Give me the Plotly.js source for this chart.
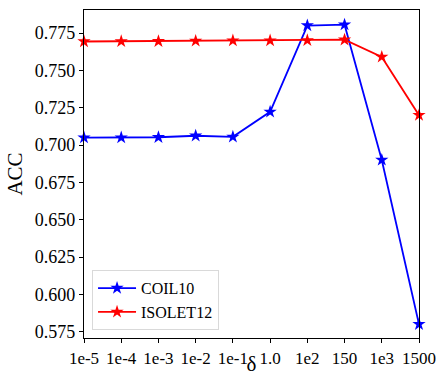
<!DOCTYPE html>
<html><head><meta charset="utf-8">
<script src="https://cdn.plot.ly/plotly-3.0.1.min.js"></script>
<style>html,body{margin:0;padding:0;background:#fff}#chart{width:440px;height:376px}</style>
</head><body><div id="chart"></div>
<script>
const categories = ["1e-5","1e-4","1e-3","1e-2","1e-1","1.0","1e2","150","1e3","1500"];
const coil10 = [0.705, 0.705, 0.7052, 0.7062, 0.7055, 0.7222, 0.7800, 0.7806, 0.6900, 0.5800];
const isolet12 = [0.7693, 0.7694, 0.7695, 0.7697, 0.7699, 0.7699, 0.7701, 0.7705, 0.7590, 0.7200];
const yTicks = [0.575,0.600,0.625,0.650,0.675,0.700,0.725,0.750,0.775];

const font = "'Liberation Serif', serif";
const traces = [
  {x: categories, y: coil10, name: "COIL10", type: "scatter", mode: "lines+markers",
   line: {color: "#0000ff", width: 1.8}, marker: {symbol: "star", size: 10, color: "#0000ff"}, cliponaxis: false},
  {x: categories, y: isolet12, name: "ISOLET12", type: "scatter", mode: "lines+markers",
   line: {color: "#ff0000", width: 1.8}, marker: {symbol: "star", size: 10, color: "#ff0000"}, cliponaxis: false}
];
const layout = {
  width: 440, height: 376,
  margin: {l: 84, r: 21, t: 10, b: 38},
  paper_bgcolor: "#fff", plot_bgcolor: "#fff",
  font: {family: font, color: "#000", size: 17},
  showlegend: true,
  legend: {x: 0.024, y: 0.024, xanchor: "left", yanchor: "bottom",
    bgcolor: "#fff", bordercolor: "#d9d9d9", borderwidth: 1, font: {size: 16, family: font},
    itemwidth: 38, tracegroupgap: 0},
  xaxis: {type: "category", range: [0, 9], showgrid: false, zeroline: false,
    showline: true, linecolor: "#000", linewidth: 1.2, mirror: true,
    ticks: "outside", ticklen: 4, tickcolor: "#000",
    tickfont: {size: 17, family: font},
    title: {text: "δ", font: {size: 21, family: font}, standoff: 0}},
  yaxis: {range: [0.5708, 0.7904], showgrid: false, zeroline: false,
    showline: true, linecolor: "#000", linewidth: 1.2, mirror: true,
    ticks: "outside", ticklen: 4, tickcolor: "#000",
    tickvals: yTicks, ticktext: yTicks.map(v => v.toFixed(3)),
    tickfont: {size: 18, family: font},
    title: {text: "ACC", font: {size: 21, family: font}, standoff: 6}}
};
Plotly.newPlot("chart", traces, layout, {displayModeBar: false, staticPlot: true});
</script></body></html>
